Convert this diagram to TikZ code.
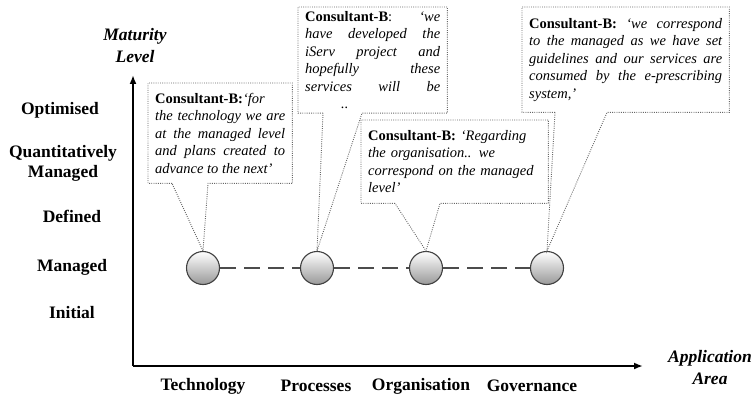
\documentclass[tikz,border=0pt]{standalone}
\usepackage{fontspec}
\setmainfont{Liberation Serif}
\usetikzlibrary{calc, arrows.meta}

\tikzset{
	levelname/.style = {font = \fontsize{17.5}{20}\selectfont\bfseries, align = center},
	axisname/.style = {font = \fontsize{17.5}{22}\selectfont\bfseries\itshape, align = center},
	ball/.style = {circle, minimum size = 33pt, inner sep = 0pt, draw = black!75, line width = 1.1pt, top color = white, bottom color = black!40},
	quotebox/.style = {anchor = north west, inner xsep = 7pt, inner ysep = 4pt, align = justify, font = \fontsize{14.5}{17.5}\selectfont},
	callout/.style = {draw = black!60, line width = 0.9pt, dash pattern = on 0.9pt off 1.3pt},
	link/.style = {draw = black!70, line width = 1.2pt, dash pattern = on 16pt off 8pt}
}

\newcommand{\who}[1]{\textbf{Consultant-B#1}}

\begin{document}
\begin{tikzpicture}[x = 1pt, y = -1pt]
	\useasboundingbox (0, 0) rectangle (751, 398);
	\def\ax{133}
	\def\ay{366}
	\def\ballrow{268}

	% axes
	\coordinate (origin) at (\ax, \ay);
	\coordinate (ytip) at (\ax, 75);
	\coordinate (xtip) at (643, \ay);
	\draw[line width = 1.8pt, -{Latex[length = 9pt, width = 7pt]}] (origin) -- (ytip);
	\draw[line width = 1.8pt, -{Latex[length = 9pt, width = 7pt]}] (origin) -- (xtip);
	\node[axisname] (ylabel) at (135, 46) {Maturity\\Level};
	\node[axisname] (xlabel) at (710, 368) {Application\\Area};

	% levels
	\node[levelname] (optimised) at (60, 110) {Optimised};
	\node[levelname] (quantitative) at (63, 163) {Quantitatively\\Managed};
	\node[levelname] (defined) at (72, 216) {Defined};
	\node[levelname] (managed) at (72, 267) {Managed};
	\node[levelname] (initial) at (72, 313) {Initial};

	% application areas
	\node[levelname] (technology) at (203, 386) {Technology};
	\node[levelname] (processes) at (316, 386) {Processes};
	\node[levelname] (organisation) at (421, 386) {Organisation};
	\node[levelname] (governance) at (532, 386) {Governance};

	% assessed levels
	\node[ball] (c1) at (203, \ballrow) {};
	\node[ball] (c2) at (317, \ballrow) {};
	\node[ball] (c3) at (426, \ballrow) {};
	\node[ball] (c4) at (547, \ballrow) {};
	\draw[link] (c1) -- (c2) -- (c3) -- (c4);

	% quotes
	\node[quotebox, text width = 130pt, minimum height = 100pt] (q1) at (148, 83)
		{\who{:}\textit{`for\linebreak the technology we are\linebreak at the managed level\linebreak and plans created to\linebreak advance to the next'}};
	\node[quotebox, text width = 135pt, minimum height = 101pt] (q2) at (298, 7)
		{\who{}: \textit{`we\linebreak have developed the\linebreak iServ project and\linebreak hopefully these\linebreak services will be\linebreak\hspace*{36pt}..}};
	\node[quotebox, align = left, text width = 173pt, minimum height = 83pt] (q3) at (361, 120)
		{\who{:} \textit{`Regarding\\the organisation.. we\\correspond on the managed\\level'}};
	\node[quotebox, text width = 193pt, minimum height = 105pt] (q4) at (522, 7)
		{\who{:} \textit{`we correspond\linebreak to the managed as we have set\linebreak guidelines and our services are\linebreak consumed by the e-prescribing\linebreak system,'}};

	\foreach \q/\c/\l/\r in {q1/c1/24/60, q2/c2/25/64, q3/c3/34/79, q4/c4/33/85}
		\draw[callout] ($(\q.south west) + (\l, 0)$) -- (\q.south west) -- (\q.north west) -- (\q.north east) -- (\q.south east) -- ($(\q.south west) + (\r, 0)$) -- (\c.north) -- cycle;
\end{tikzpicture}
\end{document}
